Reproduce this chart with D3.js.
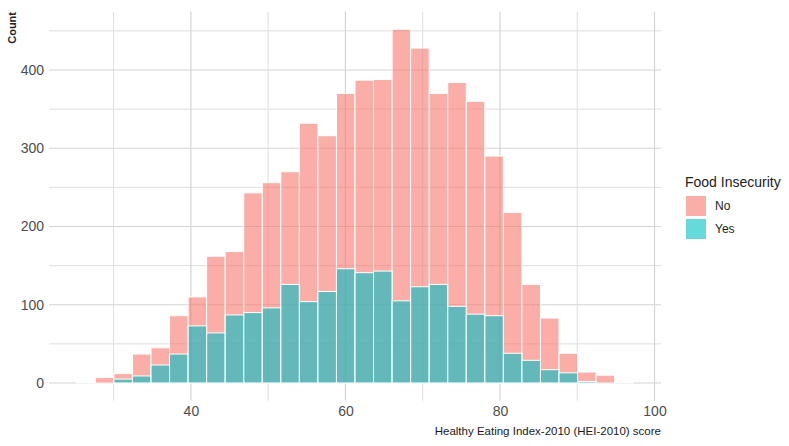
<!DOCTYPE html>
<html>
<head>
<meta charset="utf-8">
<script src="https://cdn.jsdelivr.net/npm/d3@7"></script>
<style>
  body { margin: 0; background: #fff; }
  svg { display: block; font-family: "Liberation Sans", Arial, sans-serif; }
</style>
</head>
<body>
<svg width="789" height="446"></svg>
<script>
// histogram counts per bin (bins of 2.4 starting at 25.24), overlaid not stacked
const binStart = 25.24;
const binWidth = 2.4;
const noCounts = [1, 7, 12, 37, 45, 86, 110, 162, 168, 243, 256, 270, 332, 316, 370,
                  387, 388, 452, 428, 370, 384, 360, 290, 218, 126, 83, 38, 14, 10, 1];
const yesCounts = [0, 0, 5, 9, 23, 37, 73, 64, 87, 90, 96, 126, 104, 117, 146,
                   141, 143, 105, 123, 126, 98, 88, 86, 38, 29, 17, 13, 2, 0, 0];
const groups = ["No", "Yes"];
const colors = ["#F8766D", "#00BFC4"];
const xTicks = [40, 60, 80, 100];
const xMinor = [30, 50, 70, 90];
const yTicks = [0, 100, 200, 300, 400];
const yMinor = [50, 150, 250, 350, 450];

const svg = d3.select("svg");
const pLeft = 49, pRight = 661, pTop = 11.6, pBottom = 400.7;

const x = d3.scaleLinear().domain([21.64, 100.84]).range([pLeft, pRight]);
const y = d3.scaleLinear().domain([-22.6, 474.6]).range([pBottom, pTop]);

// grid
const grid = svg.append("g");
grid.selectAll(".vmin").data(xMinor).join("line")
  .attr("x1", d => x(d)).attr("x2", d => x(d)).attr("y1", pTop).attr("y2", pBottom)
  .attr("stroke", "#dedede").attr("stroke-width", 1);
grid.selectAll(".hmin").data(yMinor).join("line")
  .attr("y1", d => y(d)).attr("y2", d => y(d)).attr("x1", pLeft).attr("x2", pRight)
  .attr("stroke", "#dedede").attr("stroke-width", 1);
grid.selectAll(".vmaj").data(xTicks).join("line")
  .attr("x1", d => x(d)).attr("x2", d => x(d)).attr("y1", pTop).attr("y2", pBottom)
  .attr("stroke", "#d4d4d4").attr("stroke-width", 1.2);
grid.selectAll(".hmaj").data(yTicks).join("line")
  .attr("y1", d => y(d)).attr("y2", d => y(d)).attr("x1", pLeft).attr("x2", pRight)
  .attr("stroke", "#d4d4d4").attr("stroke-width", 1.2);

// bars
[noCounts, yesCounts].forEach((counts, g) => {
  svg.append("g").selectAll("rect").data(counts).join("rect")
    .attr("x", (d, i) => x(binStart + i * binWidth))
    .attr("width", (d, i) => x(binStart + (i + 1) * binWidth) - x(binStart + i * binWidth))
    .attr("y", d => y(d))
    .attr("height", d => y(0) - y(d))
    .attr("fill", colors[g])
    .attr("fill-opacity", 0.6)
    .attr("stroke", "#fff")
    .attr("stroke-width", 1);
});

// axes (labels only)
const xAxis = svg.append("g").attr("transform", `translate(0,${pBottom})`)
  .call(d3.axisBottom(x).tickValues(xTicks).tickSize(0).tickPadding(5));
const yAxis = svg.append("g").attr("transform", `translate(${pLeft},0)`)
  .call(d3.axisLeft(y).tickValues(yTicks).tickSize(0).tickPadding(5));
[xAxis, yAxis].forEach(a => {
  a.select(".domain").remove();
  a.selectAll("text").attr("fill", "#4d4d4d").style("font-size", "14px")
    .style("font-family", "'Liberation Sans', Arial, sans-serif");
});

// titles
svg.append("text")
  .attr("transform", "translate(16,12) rotate(-90)")
  .attr("text-anchor", "end")
  .style("font-size", "11px").style("font-weight", "bold")
  .attr("fill", "#222").text("Count");
svg.append("text")
  .attr("x", 661).attr("y", 435)
  .attr("text-anchor", "end")
  .style("font-size", "11.5px")
  .attr("fill", "#1a1a1a").text("Healthy Eating Index-2010 (HEI-2010) score");

// legend
const legend = svg.append("g").attr("transform", "translate(685,0)");
legend.append("text").attr("x", 0).attr("y", 187)
  .style("font-size", "14px").attr("fill", "#222").text("Food Insecurity");
groups.forEach((gname, i) => {
  legend.append("rect")
    .attr("x", 1).attr("y", 196 + i * 23)
    .attr("width", 20).attr("height", 20)
    .attr("fill", colors[i]).attr("fill-opacity", 0.6);
  legend.append("text")
    .attr("x", 30).attr("y", 210 + i * 23)
    .style("font-size", "12px").attr("fill", "#222").text(gname);
});
</script>
</body>
</html>
